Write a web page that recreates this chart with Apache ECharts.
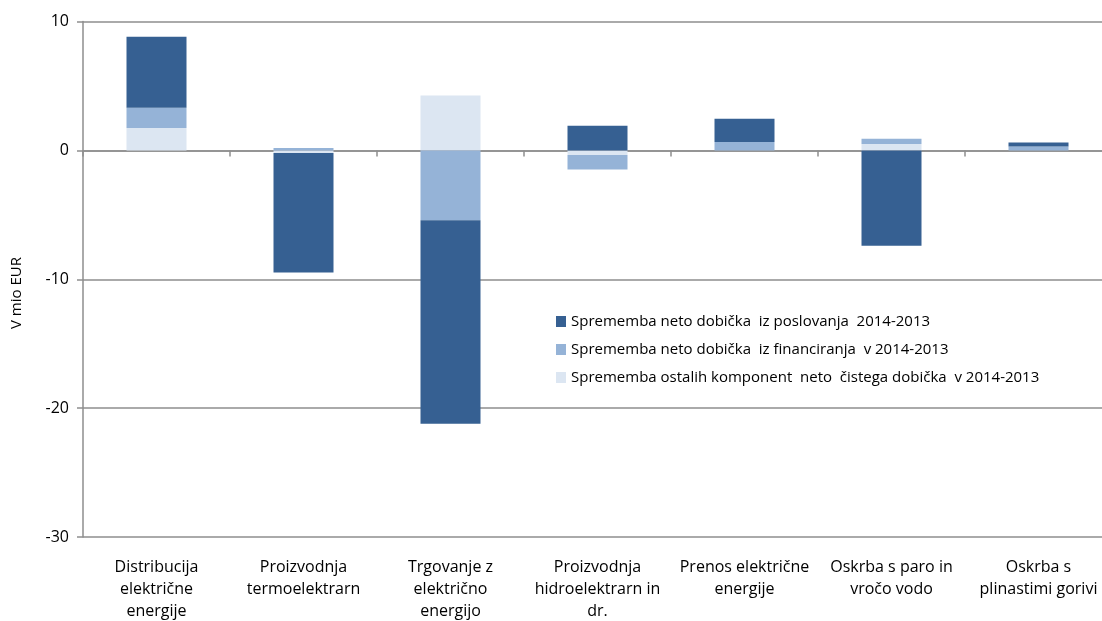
<!DOCTYPE html>
<html>
<head>
<meta charset="utf-8">
<script src="https://cdn.jsdelivr.net/npm/echarts@6/dist/echarts.min.js"></script>
<style>
  html, body { margin: 0; padding: 0; background: #fff; }
  #chart { width: 1102px; height: 621px; }
</style>
</head>
<body>
<div id="chart"></div>
<script>
// kategorije (dejavnosti)
var categories = [
  "Distribucija\nelektrične\nenergije",
  "Proizvodnja\ntermoelektrarn",
  "Trgovanje z\nelektrično\nenergijo",
  "Proizvodnja\nhidroelektrarn in\ndr.",
  "Prenos električne\nenergije",
  "Oskrba s paro in\nvročo vodo",
  "Oskrba s\nplinastimi gorivi"
];

// spremembe v mio EUR
var poslovanje = [5.5, -9.28, -15.78, 1.91, 1.81, -7.4, 0.31];
var financiranje = [1.57, 0.18, -5.43, -1.13, 0.65, 0.41, 0.31];
var ostalo = [1.74, -0.2, 4.26, -0.36, 0.0, 0.5, 0.0];

var seriesNames = [
  "Sprememba neto dobička  iz poslovanja  2014-2013",
  "Sprememba neto dobička  iz financiranja  v 2014-2013",
  "Sprememba ostalih komponent  neto  čistega dobička  v 2014-2013"
];

var yTicks = { min: -30, max: 10, interval: 10 };

var font = "Open Sans";
var gridColor = "#8e8e8e";

var myChart = echarts.init(document.getElementById("chart"));

var option = {
  animation: false,
  textStyle: { fontFamily: font },
  // desni rob je odrezan kot v izvirniku
  grid: { left: 83, width: 1029, top: 21.5, bottom: 84, outerBoundsMode: "none", containLabel: false },
  legend: {
    orient: "vertical",
    left: 551,
    top: 309,
    itemWidth: 10,
    itemHeight: 11,
    itemGap: 13,
    icon: "rect",
    data: [seriesNames[0], seriesNames[1], seriesNames[2]],
    textStyle: { fontFamily: font, fontSize: 15, color: "#000" }
  },
  graphic: [
    {
      type: "text",
      x: 17,
      y: 293,
      rotation: Math.PI / 2,
      style: {
        text: "V mio EUR",
        fontFamily: font,
        fontSize: 15,
        fill: "#000",
        align: "center",
        verticalAlign: "middle"
      }
    }
  ],
  xAxis: [
    {
      // os na vrednosti 0, s kljukicami
      type: "category",
      data: categories,
      position: "bottom",
      axisLine: { onZero: true, lineStyle: { color: gridColor, width: 1.5 } },
      axisTick: { show: true, length: 6, lineStyle: { color: gridColor, width: 1.5 } },
      axisLabel: { show: false }
    },
    {
      // oznake na dnu
      type: "category",
      data: categories,
      position: "bottom",
      axisLine: { show: false, onZero: false },
      axisTick: { show: false },
      axisLabel: {
        show: true,
        interval: 0,
        margin: 19,
        lineHeight: 22,
        fontSize: 16,
        color: "#000",
        fontFamily: font
      }
    }
  ],
  yAxis: {
    type: "value",
    min: yTicks.min,
    max: yTicks.max,
    interval: yTicks.interval,
    axisLine: { show: true, lineStyle: { color: gridColor, width: 1.5 } },
    axisTick: { show: true, length: 6, lineStyle: { color: gridColor, width: 1.5 } },
    axisLabel: { margin: 14, fontSize: 16, color: "#000", fontFamily: font },
    splitLine: { show: true, lineStyle: { color: gridColor, width: 1.5 } }
  },
  series: [
    {
      name: seriesNames[2],
      type: "bar",
      stack: "skupaj",
      barWidth: 60,
      data: ostalo,
      itemStyle: { color: "#dce6f2" }
    },
    {
      name: seriesNames[1],
      type: "bar",
      stack: "skupaj",
      barWidth: 60,
      data: financiranje,
      itemStyle: { color: "#95b3d7" }
    },
    {
      name: seriesNames[0],
      type: "bar",
      stack: "skupaj",
      barWidth: 60,
      data: poslovanje,
      itemStyle: { color: "#366092" }
    }
  ]
};

myChart.setOption(option);
</script>
</body>
</html>
